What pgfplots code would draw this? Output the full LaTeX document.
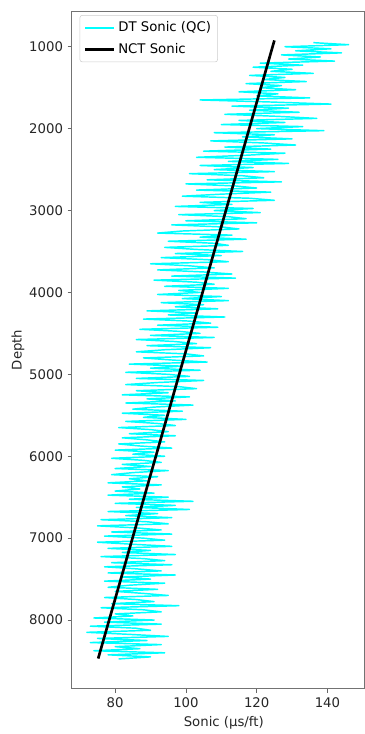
\documentclass[border=0pt]{standalone}
\usepackage{fontspec}
\setmainfont{DejaVu Sans}
\usepackage{pgfplots}
\pgfplotsset{compat=1.18}
\definecolor{aqua}{RGB}{0,255,255}
\pgfplotstableread{
x y
136 950
146 975
128 1000
141 1025
131 1050
144 1075
127 1100
138 1125
129 1150
142 1175
121 1200
133 1225
119 1250
130 1275
124 1300
136 1325
118 1350
128 1375
122 1400
134 1425
117 1450
127 1475
121 1500
131 1525
115 1550
126 1575
120 1600
135 1625
104 1650
124 1675
141 1700
113 1725
129 1750
118 1775
132 1800
111 1825
126 1850
137 1875
115 1900
128 1925
110 1950
133 1975
120 2000
139 2025
108 2050
125 2075
116 2100
130 2125
107 2150
122 2175
131 2200
111 2225
124 2250
105 2275
128 2300
117 2325
103 2350
126 2375
112 2400
129 2425
104 2450
119 2475
108 2500
125 2525
101 2550
116 2575
122 2600
106 2625
127 2650
100 2675
114 2700
120 2725
103 2750
124 2775
110 2800
99 2825
118 2850
125 2875
104 2900
113 2925
97 2950
119 2975
108 3000
121 3025
98 3050
112 3075
117 3100
100 3125
120 3150
96 3175
110 3200
115 3225
99 3250
92 3275
113 3300
104 3325
117 3350
95 3375
108 3400
112 3425
94 3450
103 3475
116 3500
97 3525
110 3550
93 3575
106 3600
112 3625
90 3650
101 3675
108 3700
92 3725
105 3750
113 3775
96 3800
114 3825
91 3850
103 3875
108 3900
94 3925
112 3950
98 3975
104 4000
92 4025
110 4050
99 4075
112 4100
93 4125
105 4150
97 4175
109 4200
89 4225
103 4250
95 4275
111 4300
88 4325
101 4350
107 4375
92 4400
109 4425
87 4450
98 4475
104 4500
90 4525
108 4550
86 4575
97 4600
103 4625
89 4650
107 4675
94 4700
86 4725
100 4750
105 4775
88 4800
96 4825
106 4850
84 4875
99 4900
90 4925
104 4950
83 4975
95 5000
101 5025
86 5050
105 5075
92 5100
83 5125
98 5150
103 5175
86 5200
95 5225
82 5250
101 5275
89 5300
97 5325
83 5350
102 5375
91 5400
85 5425
99 5450
82 5475
94 5500
88 5525
100 5550
83 5575
92 5600
97 5625
81 5650
90 5675
95 5700
84 5725
97 5750
82 5775
89 5800
94 5825
81 5850
87 5875
96 5900
80 5925
91 5950
85 5975
94 6000
79 6025
88 6050
93 6075
82 6100
90 6125
80 6150
95 6175
85 6200
79 6225
92 6250
84 6275
89 6300
78 6325
93 6350
82 6375
87 6400
80 6425
91 6450
78 6475
95 6500
84 6525
102 6550
80 6575
97 6600
86 6625
101 6650
78 6675
92 6700
83 6725
96 6750
76 6775
89 6800
95 6825
75 6850
86 6875
93 6900
79 6925
96 6950
77 6975
88 7000
94 7025
75 7050
85 7075
96 7100
78 7125
90 7150
82 7175
97 7200
76 7225
88 7250
94 7275
79 7300
96 7325
77 7350
86 7375
93 7400
78 7425
97 7450
82 7475
90 7500
77 7525
94 7550
84 7575
78 7600
92 7625
80 7650
88 7675
95 7700
77 7725
86 7750
91 7775
79 7800
98 7825
76 7850
88 7875
93 7900
80 7925
85 7950
74 7975
91 8000
77 8025
93 8050
73 8075
86 8100
90 8125
72 8150
84 8175
95 8200
75 8225
89 8250
73 8275
93 8300
80 8325
87 8350
74 8375
94 8400
78 8425
90 8450
81 8475
}\dtdata
\begin{document}
\begin{tikzpicture}
\begin{axis}[
  scale only axis, width=220.5pt, height=510.75pt,
  at={(0,0)}, anchor=south west,
  xmin=67.7, xmax=150.4, ymin=563, ymax=8838, y dir=reverse,
  xtick={80,100,120,140}, ytick={1000,2000,...,8000},
  tick align=outside, tick pos=left,
  major tick length=3pt,
  every tick/.style={black!60, line width=0.6pt},
  axis line style={black!55, line width=0.6pt},
  /pgf/number format/assume math mode=true,
  /pgf/number format/set thousands separator={},
  tick label style={font=\fontsize{10}{12}\selectfont, text=black!85},
  xlabel={Sonic (µs/ft)}, ylabel={Depth},
  label style={font=\fontsize{10}{12}\selectfont, text=black!85},
  xlabel style={at={(axis description cs:0.52,-0.0509)}, anchor=center},
  ylabel style={at={(axis description cs:-0.1837,0.5)}, anchor=center},
  legend style={at={(axis description cs:0.027,0.994)}, anchor=north west,
    draw=black!20, rounded corners=2pt, fill=white, fill opacity=0.8, text opacity=1,
    font=\fontsize{10}{12}\selectfont, inner sep=3pt, row sep=3pt},
  legend cell align=left,
  legend image code/.code={\draw[#1] (0pt,0pt) -- (22pt,0pt);},
]
\addplot[color=aqua, line width=1.1pt, line join=round] table[x=x, y=y] {\dtdata};
\addplot[black, line width=2pt] coordinates {(125,923) (75.2,8470)};
\legend{DT Sonic (QC), NCT Sonic}
\end{axis}
\path[use as bounding box] (-54pt,-31.5pt) rectangle (220.5pt,519pt);
\end{tikzpicture}
\end{document}
